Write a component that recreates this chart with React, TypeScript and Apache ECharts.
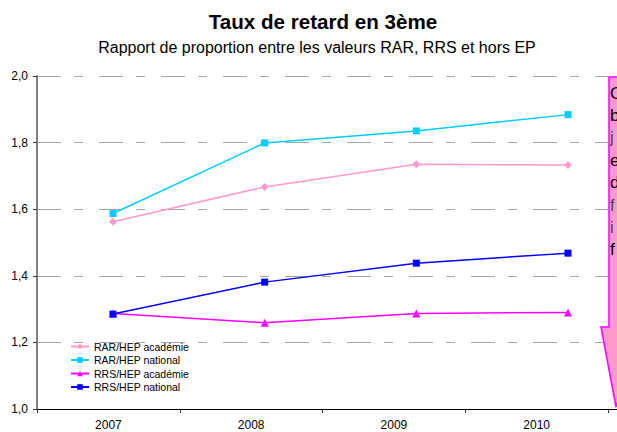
import React, { useEffect, useRef } from "react";
import * as echarts from "echarts";

const categories = ["2007", "2008", "2009", "2010"];
const rarAcademie = [1.562, 1.667, 1.735, 1.733];
const rarNational = [1.587, 1.799, 1.835, 1.884];
const rrsAcademie = [1.287, 1.259, 1.287, 1.29];
const rrsNational = [1.285, 1.381, 1.438, 1.468];
const seriesNames = ["RAR/HEP académie", "RAR/HEP national", "RRS/HEP académie", "RRS/HEP national"];
const calloutLetters = ["C", "b", "j", "e", "d", "f", "i", "f"];
const calloutGray = [false, false, true, false, false, true, true, false];

export default function App() {
  const ref = useRef<HTMLDivElement>(null);
  useEffect(() => {
    if (!ref.current) return;
    const chart = echarts.init(ref.current, undefined, { renderer: "svg" });
    const font = "Arial, 'Liberation Sans', sans-serif";
    const colors = ["#FF99CC", "#00CCFF", "#FF00FF", "#0000FF"];
    const symbols = ["diamond", "rect", "triangle", "rect"];
    const symbolSizes = [8, 7, 8, 7];
    const datas = [rarAcademie, rarNational, rrsAcademie, rrsNational];
    const gTop = 76;
    const gH = 333;
    const option: any = {
      animation: false,
      backgroundColor: "#ffffff",
      textStyle: { fontFamily: font },
      grid: [
        { left: 37, top: gTop, width: 571, height: gH, containLabel: false },
        { left: 113, top: gTop, width: 455, height: gH, containLabel: false },
      ],
      xAxis: [
        {
          type: "category",
          gridIndex: 0,
          data: categories,
          boundaryGap: true,
          axisLine: { show: true, lineStyle: { color: "#000", width: 1 } },
          axisTick: { show: true, length: 4, lineStyle: { color: "#333" } },
          axisLabel: { color: "#000", fontSize: 12, fontFamily: font, margin: 10 },
          splitLine: { show: false },
        },
        {
          type: "category",
          gridIndex: 1,
          data: categories,
          boundaryGap: false,
          show: false,
        },
      ],
      yAxis: [
        {
          type: "value",
          gridIndex: 0,
          min: 1,
          max: 2,
          interval: 0.2,
          axisLine: { show: true, lineStyle: { color: "#808080", width: 2 } },
          axisTick: { show: true, length: 4, lineStyle: { color: "#333" } },
          axisLabel: {
            color: "#000",
            fontSize: 12,
            fontFamily: font,
            margin: 9,
            formatter: (v: number) => v.toFixed(1).replace(".", ","),
          },
          splitLine: { show: true, lineStyle: { color: "#a6a6a6", width: 1, type: [24, 13, 9, 16] } },
        },
        { type: "value", gridIndex: 1, min: 1, max: 2, show: false },
      ],
      legend: {
        orient: "vertical",
        left: 70,
        top: 341,
        itemWidth: 18,
        itemHeight: 7,
        itemGap: 2.5,
        padding: 0,
        textStyle: { fontSize: 10.5, lineHeight: 10, color: "#000", fontFamily: font, padding: [0, 0, 0, 0] },
        data: seriesNames,
      },
      series: seriesNames.map((name, i) => ({
        name,
        type: "line",
        xAxisIndex: 1,
        yAxisIndex: 1,
        data: datas[i],
        symbol: symbols[i],
        symbolSize: symbolSizes[i],
        showSymbol: true,
        lineStyle: { color: colors[i], width: 1.5 },
        itemStyle: { color: colors[i] },
        z: 3 + i,
      })),
      graphic: [
        {
          type: "text",
          style: {
            text: "Taux de retard en 3ème",
            x: 323,
            y: 21,
            textAlign: "center",
            textVerticalAlign: "middle",
            font: `bold 20.6px ${font}`,
            fill: "#000",
          },
        },
        {
          type: "text",
          style: {
            text: "Rapport de proportion entre les valeurs RAR, RRS et hors EP",
            x: 317,
            y: 47,
            textAlign: "center",
            textVerticalAlign: "middle",
            font: `16px ${font}`,
            fill: "#000",
          },
        },
        {
          type: "line",
          shape: { x1: 608, y1: 409.5, x2: 617, y2: 409.5 },
          style: { stroke: "#000", lineWidth: 1 },
          z: 10,
        },
        {
          type: "polygon",
          shape: {
            points: [
              [609, 77],
              [650, 77],
              [650, 327],
              [640, 327],
              [616, 407],
              [601, 327],
              [609, 327],
            ],
          },
          style: { fill: "#FF99CC", stroke: "#FF00FF", lineWidth: 1.5 },
          z: 20,
        },
        ...calloutLetters.map((ch, i) => ({
          type: "text",
          z: 21,
          style: {
            text: ch,
            x: 610,
            y: 93 + i * 22.4,
            textVerticalAlign: "middle",
            font: `${calloutGray[i] ? 16 : 17}px ${font}`,
            fill: calloutGray[i] ? "#444444" : "#000000",
          },
        })),
      ],
    };
    chart.setOption(option);
    return () => chart.dispose();
  }, []);
  return (
    <div
      ref={ref}
      style={{ position: "fixed", left: 0, top: 0, width: 617, height: 432, background: "#fff" }}
    />
  );
}
